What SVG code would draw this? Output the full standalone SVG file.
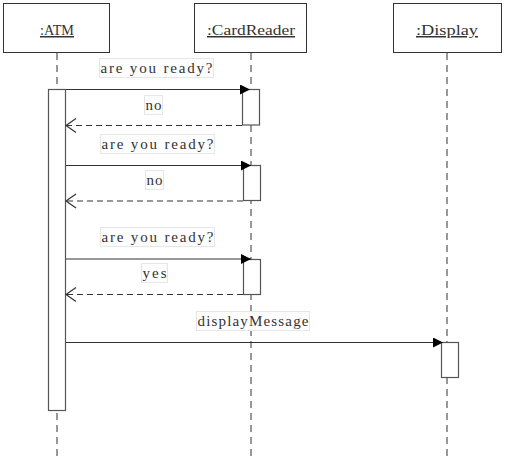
<svg xmlns="http://www.w3.org/2000/svg" width="505" height="461" viewBox="0 0 505 461">
<style>
.head{fill:#fff;stroke:#333;stroke-width:1}
.life{stroke:#777;stroke-width:1.5;stroke-dasharray:7,5;fill:none}
.act{fill:#fff;stroke:#555;stroke-width:1.2}
.t{font-family:"Liberation Serif","DejaVu Serif",serif;font-size:15px;fill:#333}
.name{text-decoration:underline;text-anchor:middle}
.lblbg{fill:#fdfdfd;stroke:#e6e6e6;stroke-width:1}
.msg{stroke:#333;stroke-width:1.2;fill:none}
.ret{stroke:#333;stroke-width:1.2;fill:none;stroke-dasharray:6,4}
</style>
<defs>
<marker id="filled" markerUnits="userSpaceOnUse" markerWidth="12" markerHeight="12" refX="10" refY="5" orient="auto">
<path d="M0,0 L10,5 L0,10 Z" fill="#000"/>
</marker>
<marker id="open" markerUnits="userSpaceOnUse" markerWidth="14" markerHeight="16" refX="11" refY="8" orient="auto">
<path d="M1,1 L11,8 L1,15" fill="none" stroke="#333" stroke-width="1.2"/>
</marker>
</defs>
<rect width="505" height="461" fill="#fff"/>
<g id="atm">
<line class="life" x1="57" y1="53" x2="57" y2="461"/>
<rect class="head" x="3.5" y="3.5" width="106" height="49"/>
<text class="t name" x="57" y="35" textLength="34" lengthAdjust="spacingAndGlyphs">:ATM</text>
</g>
<g id="cardreader">
<line class="life" x1="251" y1="53" x2="251" y2="461"/>
<rect class="head" x="194.5" y="3.5" width="112" height="49"/>
<text class="t name" x="251" y="35" textLength="88" lengthAdjust="spacingAndGlyphs">:CardReader</text>
</g>
<g id="display">
<line class="life" x1="447" y1="53" x2="447" y2="461"/>
<rect class="head" x="393.5" y="3.5" width="108" height="49"/>
<text class="t name" x="447" y="35" textLength="62" lengthAdjust="spacingAndGlyphs">:Display</text>
</g>
<g id="activations">
<rect class="act" x="48.5" y="89.5" width="17" height="321"/>
<rect class="act" x="242.5" y="89.5" width="17" height="35.5"/>
<rect class="act" x="243.5" y="165.5" width="17" height="35"/>
<rect class="act" x="243.5" y="259.5" width="17" height="35"/>
<rect class="act" x="441.5" y="342.5" width="17" height="35"/>
</g>
<g id="connectors">
<line class="msg" x1="66" y1="89.5" x2="250" y2="89.5" marker-end="url(#filled)"/>
<line class="ret" x1="242" y1="125.5" x2="66" y2="125.5" marker-end="url(#open)"/>
<line class="msg" x1="66" y1="165.5" x2="251" y2="165.5" marker-end="url(#filled)"/>
<line class="ret" x1="243" y1="201" x2="66" y2="201" marker-end="url(#open)"/>
<line class="msg" x1="66" y1="259" x2="251" y2="259" marker-end="url(#filled)"/>
<line class="ret" x1="243" y1="294.5" x2="66" y2="294.5" marker-end="url(#open)"/>
<line class="msg" x1="66" y1="342.5" x2="443" y2="342.5" marker-end="url(#filled)"/>
</g>
<g id="labels">
<rect class="lblbg" x="99.5" y="58.5" width="114" height="19"/>
<text class="t" x="156.5" y="72.5" text-anchor="middle" textLength="112" lengthAdjust="spacing">are you ready?</text>
<rect class="lblbg" x="144.5" y="95.5" width="18" height="19"/>
<text class="t" x="153.5" y="109.5" text-anchor="middle" textLength="16" lengthAdjust="spacing">no</text>
<rect class="lblbg" x="100.5" y="134.5" width="114" height="19"/>
<text class="t" x="157.5" y="148.5" text-anchor="middle" textLength="112" lengthAdjust="spacing">are you ready?</text>
<rect class="lblbg" x="145.5" y="170.5" width="18" height="19"/>
<text class="t" x="154.5" y="184.5" text-anchor="middle" textLength="16" lengthAdjust="spacing">no</text>
<rect class="lblbg" x="100.5" y="227.5" width="114" height="19"/>
<text class="t" x="157.5" y="241.5" text-anchor="middle" textLength="112" lengthAdjust="spacing">are you ready?</text>
<rect class="lblbg" x="141.5" y="263.5" width="26" height="19"/>
<text class="t" x="154.5" y="277.5" text-anchor="middle" textLength="24" lengthAdjust="spacing">yes</text>
<rect class="lblbg" x="196.5" y="311.5" width="113" height="19"/>
<text class="t" x="253" y="325.5" text-anchor="middle" textLength="111" lengthAdjust="spacing">displayMessage</text>
</g>
</svg>
